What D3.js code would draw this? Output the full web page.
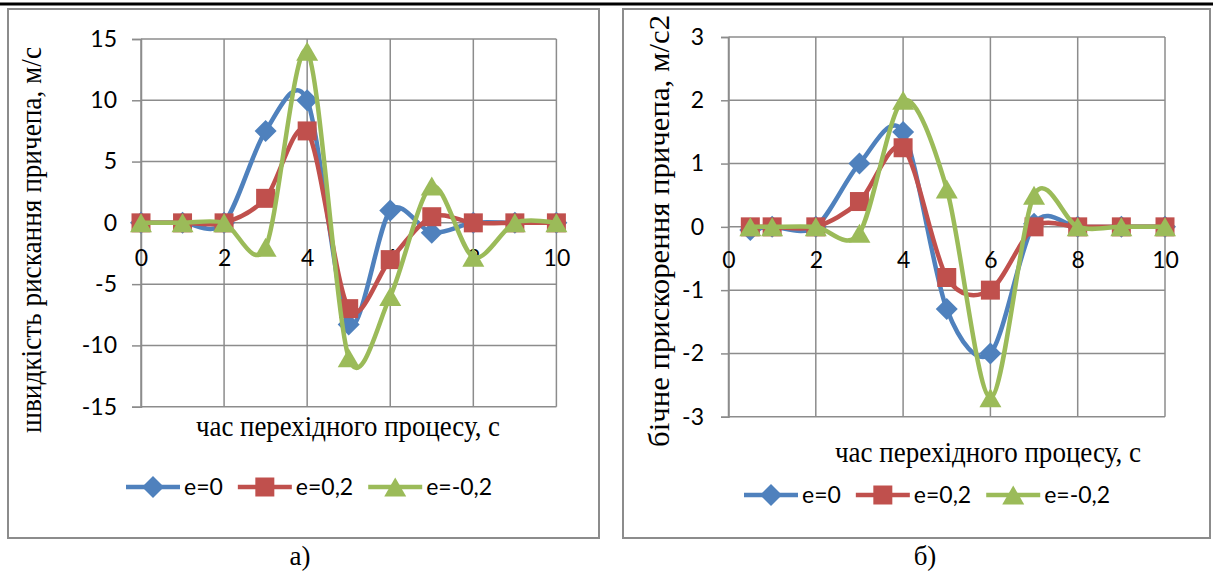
<!DOCTYPE html>
<html>
<head>
<meta charset="utf-8">
<script src="https://cdn.jsdelivr.net/npm/d3@7"></script>
<style>
  body { margin: 0; background: #fff; }
  svg { display: block; }
  .tick-label { font-family: Lato, "Liberation Sans", sans-serif; font-size: 23px; fill: #000; }
  .title { font-family: "Liberation Serif", "Times New Roman", serif; fill: #000; }
</style>
</head>
<body>
<svg id="page" width="1213" height="571"></svg>
<script>
// values

var seriesNames = ["e=0", "e=0,2", "e=-0,2"];
var seriesColors = ["#4F81BD", "#C0504D", "#9BBB59"];
var seriesMarkers = ["diamond", "square", "triangle"];

// (a) yaw velocity
var velTime = [0, 1, 2, 3, 4, 5, 6, 7, 8, 9, 10];
var velE0 = [0, 0, 0, 7.5, 10, -8.3, 1, -0.8, 0, 0, 0];
var velE02 = [0, 0, 0, 2, 7.5, -7, -3, 0.5, 0, 0, 0];
var velEm02 = [0, 0, 0, -2, 14, -11, -6, 3, -2.8, 0, 0];
var velYTicks = [-15, -10, -5, 0, 5, 10, 15];

// (b) lateral acceleration
var accTime = [0.5, 1, 2, 3, 4, 5, 6, 7, 8, 9, 10];
var accE0 = [-0.05, 0, 0, 1, 1.5, -1.3, -2, 0.05, 0, 0, 0];
var accE02 = [0, 0, 0, 0.4, 1.25, -0.8, -1, 0, 0, 0, 0];
var accEm02 = [0, 0, 0, -0.1, 2, 0.6, -2.7, 0.5, 0, 0, 0];
var accYTicks = [-3, -2, -1, 0, 1, 2, 3];

var xTicks = [0, 2, 4, 6, 8, 10];
var xTitle = "час перехідного процесу, с";

var svg = d3.select("#page");

// top rule of the page
svg.append("line")
    .attr("x1", 0).attr("x2", 1213)
    .attr("y1", 4).attr("y2", 4)
    .attr("stroke", "#000")
    .attr("stroke-width", 3);

// excel style labels: plain hyphen, no decimals
var plainFormat = function(d) { return String(d); };


function markerPath(type) {
  if (type === "diamond") {
    return "M0,-11L11,0L0,11L-11,0Z";
  }
  if (type === "square") {
    return "M-9.5,-9.5H9.5V9.5H-9.5Z";
  }
  return "M0,-9.5L11,9.5L-11,9.5Z";
}


function drawChart(cfg) {
  var g = svg.append("g");

  // frame
  g.append("rect")
      .attr("x", cfg.frame[0])
      .attr("y", cfg.frame[1])
      .attr("width", cfg.frame[2])
      .attr("height", cfg.frame[3])
      .attr("fill", "#fff")
      .attr("stroke", "#8c8c8c")
      .attr("stroke-width", 2);

  var x = d3.scaleLinear().domain([0, 10]).range([cfg.left, cfg.right]);
  var y = d3.scaleLinear().domain(d3.extent(cfg.yTicks)).range([cfg.bottom, cfg.top]);

  // grid
  g.selectAll(".hgrid")
    .data(cfg.yTicks)
    .enter().append("line")
      .attr("x1", cfg.left).attr("x2", cfg.right)
      .attr("y1", function(d) { return y(d); })
      .attr("y2", function(d) { return y(d); })
      .attr("stroke", "#8c8c8c")
      .attr("stroke-width", 1.5);

  g.selectAll(".vgrid")
    .data(xTicks)
    .enter().append("line")
      .attr("x1", function(d) { return x(d); })
      .attr("x2", function(d) { return x(d); })
      .attr("y1", cfg.top).attr("y2", cfg.bottom)
      .attr("stroke", "#8c8c8c")
      .attr("stroke-width", 1.5);

  // y axis
  var yAxis = g.append("g")
      .attr("transform", "translate(" + cfg.left + ",0)")
      .call(d3.axisLeft(y).tickValues(cfg.yTicks).tickFormat(plainFormat)
              .tickSize(cfg.tickLen).tickPadding(cfg.yPad));
  yAxis.selectAll("path, line").attr("stroke", "#8c8c8c").attr("stroke-width", 1.5);
  yAxis.selectAll("text").attr("class", "tick-label").attr("font-family", null).attr("font-size", null);

  // x axis labels, hung below the zero line
  var xAxis = g.append("g")
      .attr("transform", "translate(0," + y(0) + ")")
      .call(d3.axisBottom(x).tickValues(xTicks).tickFormat(plainFormat)
              .tickSize(0).tickPadding(cfg.xPad));
  xAxis.select(".domain").remove();
  xAxis.selectAll("text").attr("class", "tick-label").attr("font-family", null).attr("font-size", null);

  // series
  var line = d3.line()
      .x(function(d) { return x(d[0]); })
      .y(function(d) { return y(d[1]); })
      .curve(d3.curveCardinal.tension(0.1));

  cfg.series.forEach(function(vals, i) {
    var pts = cfg.time.map(function(t, k) { return [t, vals[k]]; });
    g.append("path")
        .datum(pts)
        .attr("d", line)
        .attr("fill", "none")
        .attr("stroke", seriesColors[i])
        .attr("stroke-width", 4.5)
        .attr("stroke-linejoin", "round");
    g.selectAll(".m" + i)
      .data(pts)
      .enter().append("path")
        .attr("transform", function(d) { return "translate(" + x(d[0]) + "," + y(d[1]) + ")"; })
        .attr("d", markerPath(seriesMarkers[i]))
        .attr("fill", seriesColors[i]);
  });

  // axis titles
  g.append("text")
      .attr("class", "title")
      .attr("transform", "translate(" + cfg.yTitle[0] + "," + cfg.yTitle[1] + ") rotate(-90)")
      .attr("text-anchor", "middle")
      .attr("font-size", cfg.titleSize)
      .attr("textLength", cfg.yTitle[2])
      .attr("lengthAdjust", "spacingAndGlyphs")
      .text(cfg.yLabel);

  g.append("text")
      .attr("class", "title")
      .attr("x", cfg.xTitle[0])
      .attr("y", cfg.xTitle[1])
      .attr("text-anchor", "middle")
      .attr("font-size", cfg.titleSize)
      .attr("textLength", cfg.xTitle[2])
      .attr("lengthAdjust", "spacingAndGlyphs")
      .text(xTitle);

  // legend
  var lx = cfg.legend[0];
  seriesNames.forEach(function(name, i) {
    var item = g.append("g").attr("transform", "translate(" + lx + "," + cfg.legend[1] + ")");
    item.append("line")
        .attr("x1", 0).attr("x2", 54)
        .attr("stroke", seriesColors[i])
        .attr("stroke-width", 4.5);
    item.append("path")
        .attr("transform", "translate(27,0)")
        .attr("d", markerPath(seriesMarkers[i]))
        .attr("fill", seriesColors[i]);
    var t = item.append("text")
        .attr("class", "tick-label")
        .attr("x", 58)
        .attr("dy", "0.36em")
        .text(name);
    lx += 58 + t.node().getComputedTextLength() + 15;
  });

  // caption
  svg.append("text")
      .attr("class", "title")
      .attr("x", cfg.caption[0])
      .attr("y", cfg.caption[1])
      .attr("text-anchor", "middle")
      .attr("font-size", 27)
      .text(cfg.captionText);
}


drawChart({
  frame: [8, 9, 591, 529],
  left: 141, right: 556.4, top: 39, bottom: 406.7,
  yTicks: velYTicks, tickLen: 9, yPad: 15, xPad: 27,
  time: velTime,
  series: [velE0, velE02, velEm02],
  yLabel: "швидкість рискання причепа, м/с",
  yTitle: [41, 240, 386],
  xTitle: [348, 436, 304],
  titleSize: 29,
  legend: [126, 487],
  caption: [300, 565],
  captionText: "а)"
});

drawChart({
  frame: [623, 9, 587, 529],
  left: 728.5, right: 1165, top: 37, bottom: 416.7,
  yTicks: accYTicks, tickLen: 7.5, yPad: 17, xPad: 25,
  time: accTime,
  series: [accE0, accE02, accEm02],
  yLabel: "бічне прискорення причепа, м/с2",
  yTitle: [669, 231, 432],
  xTitle: [988, 462, 306],
  titleSize: 29,
  legend: [744, 495],
  caption: [925, 565],
  captionText: "б)"
});
</script>
</body>
</html>
